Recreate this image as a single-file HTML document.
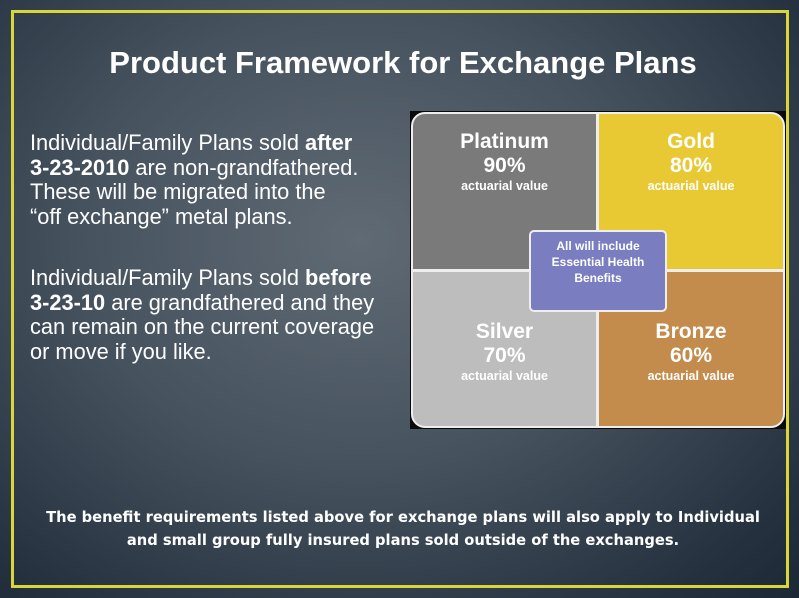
<!DOCTYPE html>
<html><head><style>
body{margin:0;width:799px;height:598px;overflow:hidden;background:radial-gradient(ellipse at 45% 40%,#5f6a74 0%,#46525e 45%,#25313e 85%,#1c2835 100%);font-family:"Liberation Sans",sans-serif;position:relative;color:#fff}
.frame{position:absolute;left:11px;top:10px;width:772px;height:572px;border:3px solid #d9d63a}
.title{position:absolute;left:0;width:806px;top:45px;text-align:center;font-weight:bold;font-size:31px}
.txt{position:absolute;left:30px;font-size:21.8px;line-height:24.5px;white-space:nowrap}
.grid{position:absolute;left:410px;top:111px;width:376px;height:318px;background:#0a0a0a}
.wb{position:absolute;left:411px;top:112px;width:370px;height:312px;border:2px solid #eee;border-radius:14px;background:#eee;overflow:hidden}
.c{position:absolute;text-align:center;font-weight:bold}
.c .n{font-size:21px;line-height:24px}
.c .a{font-size:12.5px;line-height:16px}
.bot{position:absolute;left:0;width:806px;top:506px;text-align:center;font-weight:bold;font-size:14.7px;line-height:23px;font-family:"DejaVu Sans",sans-serif}
</style></head><body>
<div class="frame"></div>
<div class="title">Product Framework for Exchange Plans</div>
<div class="txt" style="top:131px">Individual/Family Plans sold <b>after<br>3-23-2010</b> are non-grandfathered.<br>These will be migrated into the<br>“off exchange” metal plans.</div>
<div class="txt" style="top:266px">Individual/Family Plans sold <b>before<br>3-23-10</b> are grandfathered and they<br>can remain on the current coverage<br>or move if you like.</div>
<div class="grid"></div>
<div class="wb">
<div class="c" style="left:0;top:0;width:183px;height:155px;background:#7a7a7a;padding-top:16px;box-sizing:border-box"><div class="n">Platinum</div><div class="n">90%</div><div class="a">actuarial value</div></div>
<div class="c" style="left:186px;top:0;width:184px;height:155px;background:#e8c934;padding-top:16px;box-sizing:border-box"><div class="n">Gold</div><div class="n">80%</div><div class="a">actuarial value</div></div>
<div class="c" style="left:0;top:158px;width:183px;height:154px;background:#bdbdbd;padding-top:48px;box-sizing:border-box"><div class="n">Silver</div><div class="n">70%</div><div class="a">actuarial value</div></div>
<div class="c" style="left:186px;top:158px;width:184px;height:154px;background:#c38c4c;padding-top:48px;box-sizing:border-box"><div class="n">Bronze</div><div class="n">60%</div><div class="a">actuarial value</div></div>
</div>
<div class="c" style="left:529px;top:230px;width:134px;background:#7a7ec0;border:2px solid #eee;border-radius:5px;font-size:12px;line-height:16px;padding-top:6px;height:72px">All will include<br>Essential Health<br>Benefits</div>
<div class="bot">The benefit requirements listed above for exchange plans will also apply to Individual<br>and small group fully insured plans sold outside of the exchanges.</div>
</body></html>
